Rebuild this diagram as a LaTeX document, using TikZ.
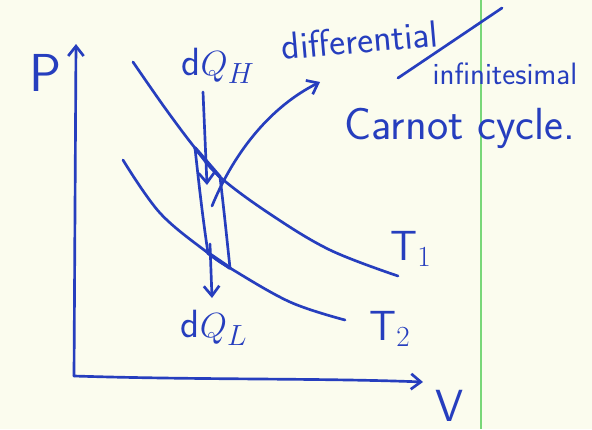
\documentclass[tikz,border=0pt]{standalone}
\usepackage{tikz}
\usetikzlibrary{arrows.meta}
\definecolor{ink}{RGB}{38,62,190}
\definecolor{paper}{RGB}{251,252,238}
\definecolor{margin}{RGB}{120,215,120}

\begin{document}
\begin{tikzpicture}[
    x=0.025cm, y=-0.025cm,
    pen/.style={draw=ink, line width=1.9pt, line cap=round, line join=round},
    arr/.style={pen, -{Straight Barb[length=7pt,width=11pt,line width=1.9pt]}},
    hand/.style={text=ink, font=\sffamily, inner sep=0pt}
  ]
    %--- paper ---
    \fill[paper] (0,0) rectangle (592,429);
    \useasboundingbox (0,0) rectangle (592,429);
    \draw[margin, line width=1.2pt] (481,0) -- (481,429);

    %--- axes ---
    \coordinate (o)  at (74,376);
    \coordinate (pt) at (76,44);
    \coordinate (vt) at (423,382);
    \draw[arr] (o) -- (pt);
    \draw[arr] (o) .. controls (200,380) and (320,378) .. (vt);
    \node[hand, font=\sffamily\fontsize{38}{38}\selectfont] (plab) at (46,73) {P};
    \node[hand, font=\sffamily\fontsize{32}{32}\selectfont] (vlab) at (450,406) {V};

    %--- isotherms ---
    \draw[pen] plot[smooth, tension=0.6] coordinates
        {(133,62) (165,108) (195,148) (220,177) (270,214) (330,250) (398,276)};
    \draw[pen] plot[smooth, tension=0.6] coordinates
        {(123,160) (160,213) (208,253) (230,268) (290,302) (345,320)};
    \node[hand, font=\sffamily\fontsize{30}{30}\selectfont] (t1) at (411,249) {T$_1$};
    \node[hand, font=\sffamily\fontsize{30}{30}\selectfont] (t2) at (390,329) {T$_2$};

    %--- small cycle ---
    \coordinate (a) at (195,148);
    \coordinate (b) at (220,177);
    \coordinate (c) at (230,268);
    \coordinate (d) at (208,253);
    \draw[pen, line width=2.6pt] (a) -- (b);
    \draw[pen, line width=2.6pt] (d) -- (c);
    \draw[pen] (a) .. controls (199,185) and (203,220) .. (d);
    \draw[pen] (b) .. controls (224,210) and (227,240) .. (c);

    %--- heat flows ---
    \node[hand, font=\sffamily\fontsize{28}{28}\selectfont] (qh) at (218,66) {d$Q_H$};
    \node[hand, font=\sffamily\fontsize{28}{28}\selectfont] (ql) at (214,328) {d$Q_L$};
    \coordinate (qh0) at (203,92);
    \coordinate (qh1) at (207,185);
    \coordinate (ql0) at (210,244);
    \coordinate (ql1) at (212,298);
    \draw[arr] (qh0) -- (qh1);
    \draw[arr] (ql0) -- (ql1);

    %--- notes ---
    \coordinate (cyc) at (212,206);
    \coordinate (tip) at (320,82);
    \draw[arr] (cyc) .. controls (235,150) and (272,106) .. (tip);
    \node[hand, font=\sffamily\fontsize{27}{27}\selectfont, rotate=5] (diff) at (360,40) {differential};
    \draw[pen] (398,78) -- (502,8);
    \node[hand, font=\sffamily\fontsize{22}{22}\selectfont] (inf) at (505,74) {infinitesimal};
    \node[hand, font=\sffamily\fontsize{32}{32}\selectfont] (carnot) at (460,128) {Carnot cycle.};
  \end{tikzpicture}
\end{document}
